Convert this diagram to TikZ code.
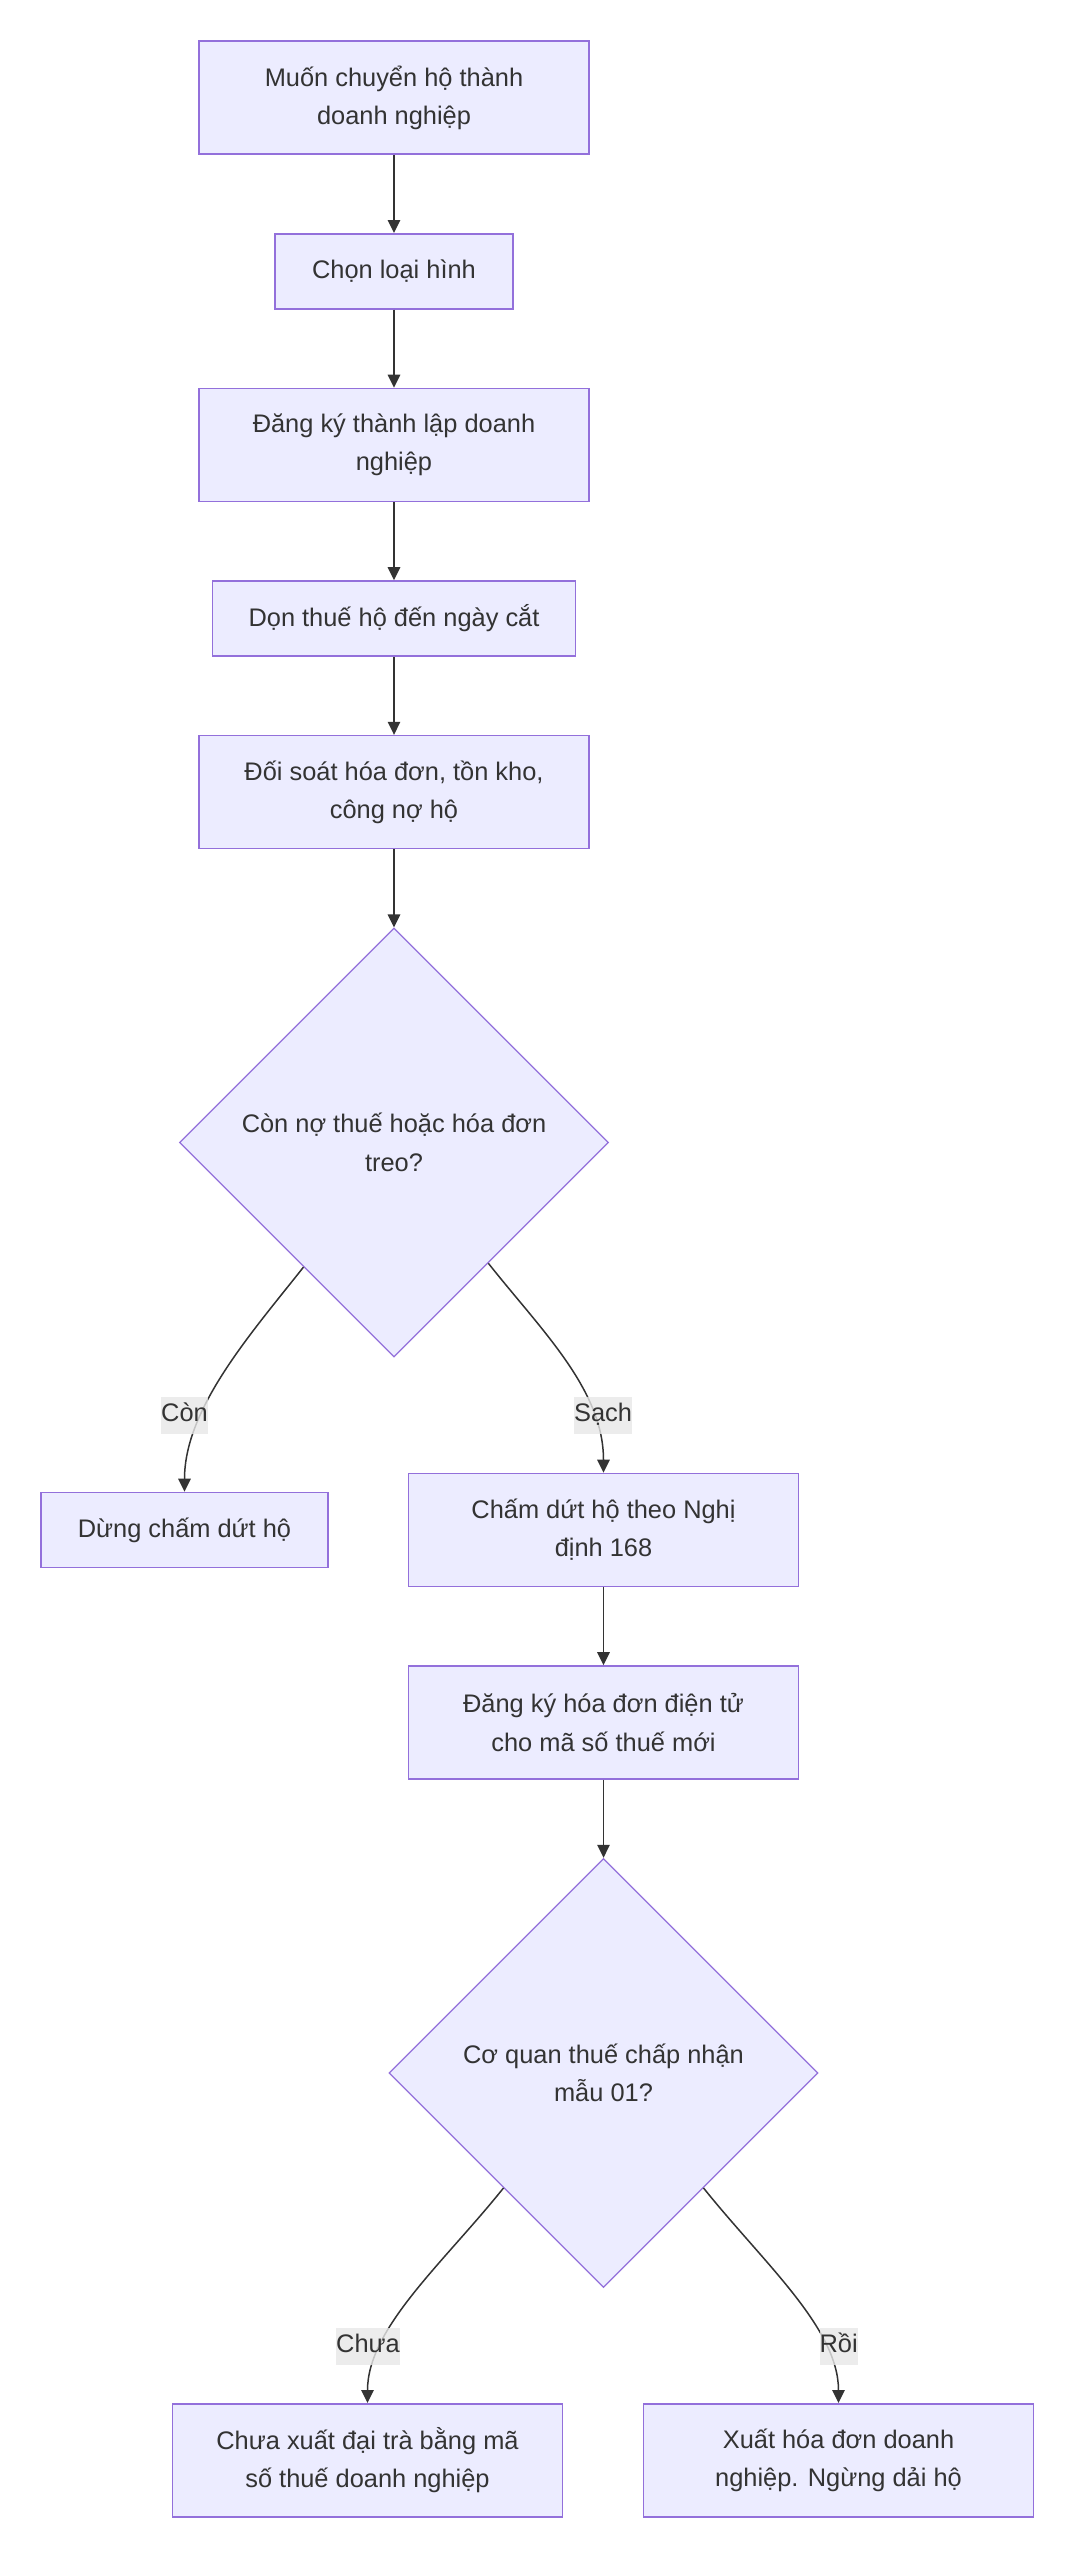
\documentclass[tikz,border=0pt]{standalone}
\usepackage{fontspec}
\setmainfont{Liberation Sans}
\usepackage{tikz}
\usetikzlibrary{arrows.meta}
\usetikzlibrary{shapes.geometric,positioning}

\definecolor{boxfill}{HTML}{ECECFF}
\definecolor{boxline}{HTML}{9370DB}
\definecolor{edgeline}{HTML}{333333}
\definecolor{labelfill}{HTML}{E8E8E8}

\begin{document}
\begin{tikzpicture}[
        x=1pt, y=1pt,
        node distance=78pt,
        every node/.style={font=\fontsize{25.4}{38.4}\selectfont, text=edgeline},
        box/.style={rectangle, draw=boxline, fill=boxfill, line width=1.6pt, align=center, minimum width=390pt, minimum height=113pt, inner sep=0pt},
        smallbox/.style={box, minimum height=75pt},
        decision/.style={diamond, aspect=1, draw=boxline, fill=boxfill, line width=1.2pt, align=center, minimum width=429pt, minimum height=429pt, inner sep=0pt},
        edgelabel/.style={fill=labelfill, fill opacity=0.8, text opacity=1, inner xsep=0pt, inner ysep=0pt, text height=24.7pt, text depth=12.3pt},
        arrow/.style={-{Triangle[length=13pt,width=12.5pt]}, draw=edgeline, line width=1.5pt}
      ]
        \path[use as bounding box, fill=white] (0,0) rectangle (1075,-2560);

        \node (start) [box] at (394,-97.7) {Muốn chuyển hộ thành\\doanh nghiệp};
        \node (kind) [below=of start, smallbox, minimum width=237.5pt] {Chọn loại hình};
        \node (register) [below=of kind, box] {Đăng ký thành lập doanh\\nghiệp};
        \node (cleartax) [below=of register, smallbox, minimum width=363pt] {Dọn thuế hộ đến ngày cắt};
        \node (reconcile) [below=of cleartax, box] {Đối soát hóa đơn, tồn kho,\\công nợ hộ};
        \node (debt) [below=of reconcile, decision] {Còn nợ thuế hoặc hóa đơn\\treo?};

        \node (stop) [below=134pt of debt, xshift=-209.5pt, smallbox, minimum width=287pt] {Dừng chấm dứt hộ};
        \node (terminate) [below=115pt of debt, xshift=209.5pt, box] {Chấm dứt hộ theo Nghị\\định 168};
        \node (einvoice) [below=of terminate, box] {Đăng ký hóa đơn điện tử\\cho mã số thuế mới};
        \node (accept) [below=of einvoice, decision] {Cơ quan thuế chấp nhận\\mẫu 01?};

        \node (notyet) [below=115pt of accept, xshift=-236pt, box] {Chưa xuất đại trà bằng mã\\số thuế doanh nghiệp};
        \node (issue) [below=115pt of accept, xshift=235pt, box] {Xuất hóa đơn doanh\\nghiệp. Ngừng dải hộ};

        \draw[arrow] (start) -- (kind);
        \draw[arrow] (kind) -- (register);
        \draw[arrow] (register) -- (cleartax);
        \draw[arrow] (cleartax) -- (reconcile);
        \draw[arrow] (reconcile) -- (debt);
        \draw[arrow] (debt.-126) .. controls +(-53,-67) and +(0,83) .. (stop.north);
        \draw[arrow] (debt.-52) .. controls +(53,-67) and +(0,83) .. (terminate.north);
        \draw[arrow] (terminate) -- (einvoice);
        \draw[arrow] (einvoice) -- (accept);
        \draw[arrow] (accept.-131) .. controls +(-60,-75) and +(0,75) .. (notyet.north);
        \draw[arrow] (accept.-49) .. controls +(60,-75) and +(0,75) .. (issue.north);

        \node (lcon) [edgelabel] at (184.5,-1415.5) {Còn};
        \node (lsach) [edgelabel] at (603,-1415.5) {Sạch};
        \node (lchua) [edgelabel] at (368,-2346.7) {Chưa};
        \node (lroi) [edgelabel] at (838.7,-2346.7) {Rồi};

      \end{tikzpicture}
\end{document}
